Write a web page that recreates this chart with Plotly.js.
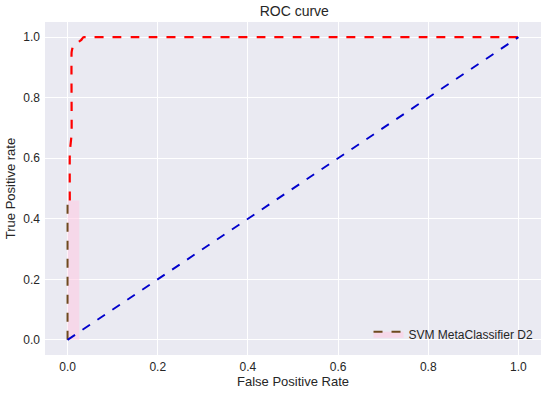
<!DOCTYPE html>
<html><head><meta charset="utf-8">
<script src="https://cdn.plot.ly/plotly-3.0.1.min.js"></script>
<style>body{margin:0;padding:0;}#c{width:550px;height:393px;}</style>
</head><body><div id="c"></div>
<script>
// ROC curve data
const fprLow = [0, 0];
const tprLow = [0, 0.46];
const fillEdgeX = [0.026, 0.026];
const fprRoc = [0.005, 0.005, 0.009, 0.009, 0.012, 0.018, 0.025, 0.03, 0.035, 0.04, 1.0];
const tprRoc = [0.46, 0.62, 0.68, 0.95, 0.97, 0.975, 0.985, 0.99, 1.0, 1.0, 1.0];
const diagX = [0, 1];
const diagY = [0, 1];
const legendName = 'SVM MetaClassifier D2';

const traces = [
  {x: fillEdgeX, y: tprLow, mode: 'lines', line: {width: 0, color: 'rgba(0,0,0,0)'}, showlegend: false, hoverinfo: 'skip'},
  {x: fprLow, y: tprLow, mode: 'lines', fill: 'tonextx', fillcolor: 'rgba(255,200,225,0.55)',
   line: {color: '#6e4a1e', width: 2, dash: 'dash'}, name: legendName},
  {x: fprRoc, y: tprRoc, mode: 'lines', line: {color: '#ff0000', width: 2.2, dash: 'dash', shape: 'spline', smoothing: 0.3}, showlegend: false},
  {x: diagX, y: diagY, mode: 'lines', line: {color: '#0000cc', width: 1.9, dash: 'dash'}, showlegend: false}
];

const font = {family: 'Liberation Sans, Arial, sans-serif', color: '#262626'};
const layout = {
  width: 550, height: 393,
  margin: {l: 45, r: 9, t: 22, b: 38},
  paper_bgcolor: '#ffffff',
  plot_bgcolor: '#eaeaf2',
  font: Object.assign({size: 12}, font),
  title: {text: 'ROC curve', x: 0.535, xanchor: 'center', y: 0.985, yanchor: 'top', font: {size: 14, color: '#262626'}},
  xaxis: {range: [-0.05, 1.05], tickvals: [0, 0.2, 0.4, 0.6, 0.8, 1.0], ticktext: ['0.0','0.2','0.4','0.6','0.8','1.0'],
          gridcolor: '#ffffff', gridwidth: 1, zeroline: false, showline: false, ticks: '', ticklabelstandoff: 3,
          title: {text: 'False Positive Rate', font: {size: 13, color: '#262626'}, standoff: 2}},
  yaxis: {range: [-0.05, 1.05], tickvals: [0, 0.2, 0.4, 0.6, 0.8, 1.0], ticktext: ['0.0','0.2','0.4','0.6','0.8','1.0'],
          gridcolor: '#ffffff', gridwidth: 1, zeroline: false, showline: false, ticks: '', ticklabelstandoff: 4,
          title: {text: 'True Positive rate', font: {size: 13, color: '#262626'}, standoff: 4}},
  legend: {x: 0.995, y: 0.02, xanchor: 'right', yanchor: 'bottom', bgcolor: 'rgba(0,0,0,0)', font: {size: 12, color: '#262626'}},
  showlegend: true
};
Plotly.newPlot('c', traces, layout, {displayModeBar: false, staticPlot: true});
</script></body></html>
